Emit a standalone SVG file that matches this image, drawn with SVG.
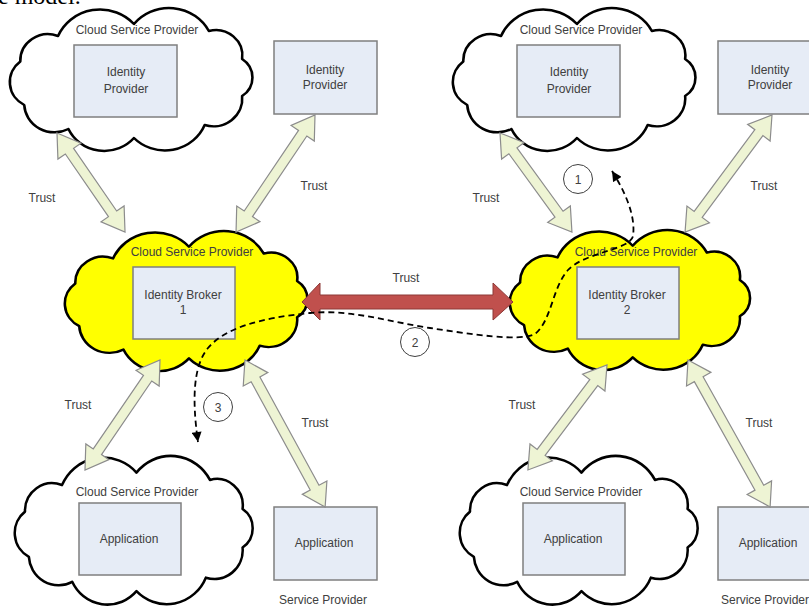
<svg xmlns="http://www.w3.org/2000/svg" xmlns:xlink="http://www.w3.org/1999/xlink" width="809" height="606" viewBox="0 0 809 606">
<style>
.cloud{stroke:#000;stroke-width:2.5;stroke-linejoin:round}
.box{fill:#e6ecf6;stroke:#7f7f7f;stroke-width:1.5}
.t{font-family:"Liberation Sans",Arial,sans-serif;font-size:12px;fill:#404040;text-anchor:middle}
.tr{fill:#eef4d4;stroke:#8c8c8c;stroke-width:1.2;stroke-linejoin:miter}
.dash{fill:none;stroke:#000;stroke-width:1.8;stroke-dasharray:6 4}
.num{fill:none;stroke:#404040;stroke-width:1}
</style>
<defs>
<path id="cloudShape" d="M 14.7,52.5 A 26.6,26.6 0 0 1 51,27 A 44,44 0 0 1 124,15 A 43.4,43.4 0 0 1 196,22 A 25.5,25.5 0 0 1 228,50 A 22.2,22.2 0 0 1 228,87 A 27.7,27.7 0 0 1 192,116 A 41.5,41.5 0 0 1 124,129 A 38,38 0 0 1 61,120 A 29,29 0 0 1 18.5,96 A 26,26 0 0 1 14.7,52.5 Z"/>
<marker id="ah" viewBox="0 0 10 10" refX="10" refY="5" markerWidth="11" markerHeight="10" markerUnits="userSpaceOnUse" orient="auto-start-reverse">
<path d="M0,0 L10,5 L0,10 z" fill="#000"/>
</marker>
</defs>
<rect width="809" height="606" fill="#fff"/>
<text x="-2" y="4" font-family="Liberation Serif,serif" font-size="24" fill="#000">e model.</text>

<g id="cloud-idp-left">
<use xlink:href="#cloudShape" class="cloud" fill="#fff" transform="translate(5,9) scale(1.04,1)"/>
<text class="t" x="137" y="34">Cloud Service Provider</text>
<rect class="box" x="74" y="45" width="103" height="72"/>
<text class="t" x="126" y="76">Identity</text>
<text class="t" x="126" y="93">Provider</text>
</g>
<g id="idp-left">
<rect class="box" x="274" y="41" width="103" height="73"/>
<text class="t" x="325" y="74">Identity</text>
<text class="t" x="325" y="89">Provider</text>
</g>
<g id="cloud-idp-right">
<use xlink:href="#cloudShape" class="cloud" fill="#fff" transform="translate(448,9) scale(1.04,1)"/>
<text class="t" x="581" y="34">Cloud Service Provider</text>
<rect class="box" x="517" y="45" width="103" height="72"/>
<text class="t" x="569" y="76">Identity</text>
<text class="t" x="569" y="93">Provider</text>
</g>
<g id="idp-right">
<rect class="box" x="718" y="41" width="103" height="73"/>
<text class="t" x="770" y="74">Identity</text>
<text class="t" x="770" y="89">Provider</text>
</g>
<g id="broker-1">
<use xlink:href="#cloudShape" class="cloud" fill="#ffff00" transform="translate(60,232) scale(1.04,0.98)"/>
<text class="t" x="192" y="256">Cloud Service Provider</text>
<rect class="box" x="133" y="267" width="102" height="72"/>
<text class="t" x="183" y="299">Identity Broker</text>
<text class="t" x="183" y="314">1</text>
</g>
<g id="broker-2">
<use xlink:href="#cloudShape" class="cloud" fill="#ffff00" transform="translate(505,231) scale(1.03,0.98)"/>
<text class="t" x="636" y="256">Cloud Service Provider</text>
<rect class="box" x="577" y="267" width="102" height="72"/>
<text class="t" x="627" y="299">Identity Broker</text>
<text class="t" x="627" y="314">2</text>
</g>
<g id="cloud-app-left">
<use xlink:href="#cloudShape" class="cloud" fill="#fff" transform="translate(10,457) scale(1.02,1.04)"/>
<text class="t" x="137" y="496">Cloud Service Provider</text>
<rect class="box" x="79" y="503" width="102" height="72"/>
<text class="t" x="129" y="543">Application</text>
</g>
<g id="app-left">
<rect class="box" x="274" y="507" width="103" height="73"/>
<text class="t" x="324" y="547">Application</text>
<text class="t" x="323" y="604">Service Provider</text>
</g>
<g id="cloud-app-right">
<use xlink:href="#cloudShape" class="cloud" fill="#fff" transform="translate(455,457) scale(1.02,1.04)"/>
<text class="t" x="581" y="496">Cloud Service Provider</text>
<rect class="box" x="523" y="503" width="102" height="72"/>
<text class="t" x="573" y="543">Application</text>
</g>
<g id="app-right">
<rect class="box" x="718" y="507" width="103" height="73"/>
<text class="t" x="768" y="547">Application</text>
<text class="t" x="765" y="604">Service Provider</text>
</g>

<g id="connectors">
<polygon class="tr" transform="translate(57,133) rotate(55.5)" points="0,0 22,-14 22,-5 98.1,-5 98.1,-14 120.1,0 98.1,14 98.1,5 22,5 22,14"/>
<polygon class="tr" transform="translate(315,115) rotate(124)" points="0,0 22,-14 22,-5 119.2,-5 119.2,-14 141.2,0 119.2,14 119.2,5 22,5 22,14"/>
<polygon class="tr" transform="translate(500,133) rotate(54)" points="0,0 22,-14 22,-5 100.4,-5 100.4,-14 122.4,0 100.4,14 100.4,5 22,5 22,14"/>
<polygon class="tr" transform="translate(772,115) rotate(126.6)" points="0,0 22,-14 22,-5 123.8,-5 123.8,-14 145.8,0 123.8,14 123.8,5 22,5 22,14"/>
<polygon class="tr" transform="translate(160,360) rotate(124.3)" points="0,0 22,-14 22,-5 111.1,-5 111.1,-14 133.1,0 111.1,14 111.1,5 22,5 22,14"/>
<polygon class="tr" transform="translate(245,360) rotate(61.4)" points="0,0 22,-14 22,-5 145.4,-5 145.4,-14 167.4,0 145.4,14 145.4,5 22,5 22,14"/>
<polygon class="tr" transform="translate(607,365) rotate(127)" points="0,0 22,-14 22,-5 109.4,-5 109.4,-14 131.4,0 109.4,14 109.4,5 22,5 22,14"/>
<polygon class="tr" transform="translate(688,360) rotate(60.8)" points="0,0 22,-14 22,-5 146.3,-5 146.3,-14 168.3,0 146.3,14 146.3,5 22,5 22,14"/>
<polygon points="302,302 320,283 320,295 493,295 493,283 513,302 493,320 493,309 320,309 320,320" fill="#c0504d" stroke="#8c3836" stroke-width="1"/>
<path class="dash" marker-start="url(#ah)" marker-end="url(#ah)" d="M 612,171 C 624,190 636,215 633,236 C 630,250 585,252 568,270 C 552,288 552,320 535,334 C 520,342 470,334 430,328 C 390,322 350,309 310,313 C 260,318 225,328 208,348 C 193,366 192,400 198,442"/>
<text class="t" x="42" y="202">Trust</text>
<text class="t" x="314" y="190">Trust</text>
<text class="t" x="486" y="202">Trust</text>
<text class="t" x="764" y="190">Trust</text>
<text class="t" x="406" y="282">Trust</text>
<text class="t" x="78" y="409">Trust</text>
<text class="t" x="315" y="427">Trust</text>
<text class="t" x="522" y="409">Trust</text>
<text class="t" x="759" y="427">Trust</text>
<circle class="num" cx="578" cy="179" r="14.5"/>
<text class="t" x="578" y="184" font-size="13">1</text>
<circle class="num" cx="415" cy="342" r="14.5"/>
<text class="t" x="415" y="347" font-size="13">2</text>
<circle class="num" cx="218" cy="407" r="14.5"/>
<text class="t" x="218" y="412" font-size="13">3</text>
</g>
</svg>
